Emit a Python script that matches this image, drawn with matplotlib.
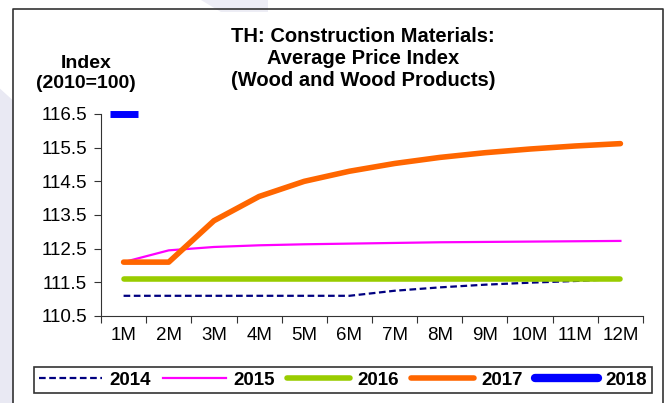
import matplotlib.pyplot as plt
import numpy as np
from matplotlib.patches import Polygon
from matplotlib.lines import Line2D

plt.rcParams['font.family'] = ['Liberation Sans', 'DejaVu Sans']

months = ["1M", "2M", "3M", "4M", "5M", "6M", "7M", "8M", "9M", "10M", "11M", "12M"]
y2014 = [111.1, 111.1, 111.1, 111.1, 111.1, 111.1, 111.25, 111.35, 111.43, 111.49, 111.54, 111.6]
y2015 = [112.1, 112.45, 112.55, 112.6, 112.63, 112.65, 112.67, 112.69, 112.7, 112.71, 112.72, 112.73]
y2016 = [111.6] * 12
y2017 = [112.1, 112.1, 113.33, 114.05, 114.5, 114.8, 115.03, 115.21, 115.35, 115.46, 115.55, 115.62]
y2018 = [116.5]
yticks = [110.5, 111.5, 112.5, 113.5, 114.5, 115.5, 116.5]

fig = plt.figure(figsize=(6.69, 4.03), dpi=100)

# faint watermark shape behind the chart
fig.patches.append(Polygon([(0.0, 0.0), (0.02, 0.0), (0.02, 0.75), (0.0, 0.78)],
                           closed=True, transform=fig.transFigure,
                           facecolor="#e9e9f3", edgecolor="none", zorder=0))
fig.patches.append(Polygon([(0.30, 1.0), (0.40, 1.0), (0.40, 0.97), (0.33, 0.97)],
                           closed=True, transform=fig.transFigure,
                           facecolor="#ededf5", edgecolor="none", zorder=0))

# outer border (left, top, right)
bx0, bx1, by1 = 13 / 669, 663 / 669, 1 - 9 / 403
fig.lines.append(Line2D([bx0, bx0, bx1, bx1], [0, by1, by1, 0],
                        transform=fig.transFigure, color="#333333", lw=1.2))

ax = fig.add_axes([101 / 669, 1 - 316 / 403, 542 / 669, 202 / 403])
x = np.arange(len(months))

l14, = ax.plot(x, y2014, color="#000080", lw=1.6, ls=(0, (3, 1.6)), label="2014")
l15, = ax.plot(x, y2015, color="#ff00ff", lw=1.6, label="2015")
l16, = ax.plot(x, y2016, color="#99cc00", lw=4, solid_capstyle="round", label="2016")
l17, = ax.plot(x, y2017, color="#ff6600", lw=4, solid_capstyle="round", label="2017")
l18, = ax.plot(x[:len(y2018)], y2018, color="#0000ff", lw=6, marker="_", ms=20, mew=5,
               solid_capstyle="round", clip_on=False, label="2018")

ax.set_xlim(-0.5, len(months) - 0.5)
ax.set_ylim(110.5, 116.5)
ax.set_yticks(yticks)
ax.set_yticklabels(["%.1f" % t for t in yticks], fontsize=13.5)
ax.set_xticks(np.arange(len(months) + 1) - 0.5)
ax.set_xticklabels([])
ax.set_xticks(x, minor=True)
ax.set_xticklabels(months, minor=True, fontsize=13.5)
ax.tick_params(axis="x", which="minor", length=0, pad=8)
ax.tick_params(axis="both", which="major", length=5, direction="out", color="#333333")
ax.tick_params(axis="y", pad=5)
for s in ["top", "right"]:
    ax.spines[s].set_visible(False)
for s in ["left", "bottom"]:
    ax.spines[s].set_color("#333333")

# titles
tx = 363 / 669
for i, line in enumerate(["TH: Construction Materials:", "Average Price Index",
                          "(Wood and Wood Products)"]):
    fig.text(tx, 1 - (37 + 22 * i) / 403, line, ha="center", va="center",
             fontsize=14.5, fontweight="bold")
fig.text(86 / 669, 1 - 63 / 403, "Index", ha="center", va="center", fontsize=14, fontweight="bold")
fig.text(86 / 669, 1 - 84 / 403, "(2010=100)", ha="center", va="center", fontsize=14, fontweight="bold")

leg = fig.legend(handles=[l14, l15, l16, l17, l18], loc="center",
                 bbox_to_anchor=(343 / 669, 1 - 380 / 403),
                 ncol=5, frameon=True, fancybox=False,
                 handlelength=3.4, handletextpad=0.4, borderpad=0.25,
                 columnspacing=0.6, prop={"size": 13.5, "weight": "bold"},
                 borderaxespad=0)
leg.get_frame().set_edgecolor("black")
leg.get_frame().set_linewidth(1.2)
leg.legend_handles[4].set_marker("")

fig.savefig("out.png", dpi=100)
